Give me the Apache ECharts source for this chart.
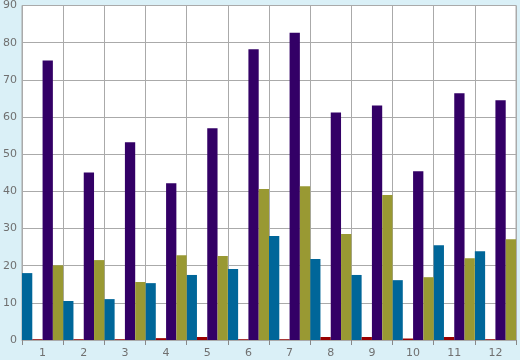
<!DOCTYPE html>
<html><head><meta charset="utf-8">
<script src="https://cdn.jsdelivr.net/npm/echarts@6/dist/echarts.min.js"></script>
<style>html,body{margin:0;padding:0;background:#daf0f7;}#c{width:520px;height:360px;}</style>
</head><body><div id="c"></div>
<script>
var categories = ['1','2','3','4','5','6','7','8','9','10','11','12'];
var tealValues   = [18, 10.5, 11, 15.3, 17.5, 19.1, 28, 21.8, 17.5, 16.1, 25.5, 23.9];
var redValues    = [0.2, 0.2, 0.2, 0.5, 0.8, 0.2, 0.2, 0.8, 0.8, 0.4, 0.8, 0.2];
var purpleValues = [75.2, 45.1, 53.2, 42.2, 57, 78.2, 82.7, 61.2, 63.1, 45.4, 66.4, 64.5];
var oliveValues  = [20.1, 21.5, 15.6, 22.8, 22.6, 40.6, 41.4, 28.5, 39, 16.9, 22, 27.1];

var chart = echarts.init(document.getElementById('c'));
var txt = {color:'#707070', fontFamily:'DejaVu Sans', fontSize:11};
function s(name, data, color){
  return {name:name, type:'bar', data:data, itemStyle:{color:color}, barGap:'0%', barCategoryGap:'0%', animation:false};
}
chart.setOption({
  animation:false,
  backgroundColor:'#daf0f7',
  grid:{left:20, right:4, top:5, bottom:20, show:true, backgroundColor:'#ffffff', borderColor:'#aaaaaa', borderWidth:1},
  xAxis:{type:'category', data:categories, boundaryGap:true,
    axisLine:{lineStyle:{color:'#aaaaaa'}},
    axisTick:{show:true, length:5, lineStyle:{color:'#888888'}},
    axisLabel:Object.assign({margin:8}, txt),
    splitLine:{show:true, lineStyle:{color:'#aaaaaa'}}},
  yAxis:{type:'value', min:0, max:90, interval:10,
    axisLine:{show:true, lineStyle:{color:'#aaaaaa'}},
    axisTick:{show:false},
    axisLabel:Object.assign({margin:5}, txt),
    splitLine:{show:true, lineStyle:{color:'#aaaaaa'}}},
  series:[
    s('A', tealValues, '#006699'),
    s('B', redValues, '#990000'),
    s('C', purpleValues, '#330066'),
    s('D', oliveValues, '#999933')
  ]
});
</script></body></html>
